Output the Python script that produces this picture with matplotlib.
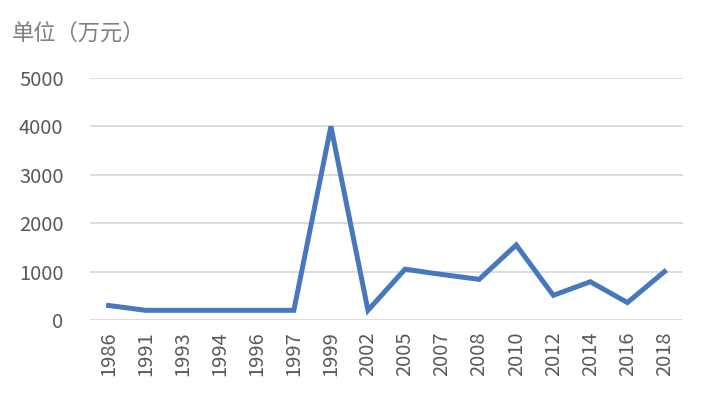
import matplotlib.pyplot as plt

plt.rcParams['font.family'] = ['Noto Sans CJK SC', 'DejaVu Sans']

# data
years = ['1986', '1991', '1993', '1994', '1996', '1997', '1999', '2002',
         '2005', '2007', '2008', '2010', '2012', '2014', '2016', '2018']
amount = [300, 200, 200, 200, 200, 200, 4000, 200,
          1050, 940, 840, 1550, 510, 790, 360, 1000]

fig = plt.figure(figsize=(7.04, 3.97), dpi=100)
ax = fig.add_axes([90/704, 1 - 320/397, 593/704, 242/397])

x = list(range(len(years)))
ax.plot(x, amount, color='#4677BF', linewidth=3.6, solid_joinstyle='miter', zorder=3)

ax.set_xlim(-0.5, len(years) - 0.5)
ax.set_ylim(0, 5000)
ax.set_yticks([0, 1000, 2000, 3000, 4000, 5000])
ax.set_xticks(x)
ax.set_xticklabels(years, rotation=90)
ax.grid(axis='y', color='#d9d9d9', linewidth=1.3)
ax.set_axisbelow(True)
for s in ax.spines.values():
    s.set_visible(False)
ax.tick_params(length=0, labelsize=14.5, colors='#595959', pad=8)
ax.tick_params(axis='y', pad=19)

fig.text(12/704, 1 - 33/397, '单位（万元）', fontsize=16, color='#7f7f7f', va='center')

fig.savefig('out.png', dpi=100)
